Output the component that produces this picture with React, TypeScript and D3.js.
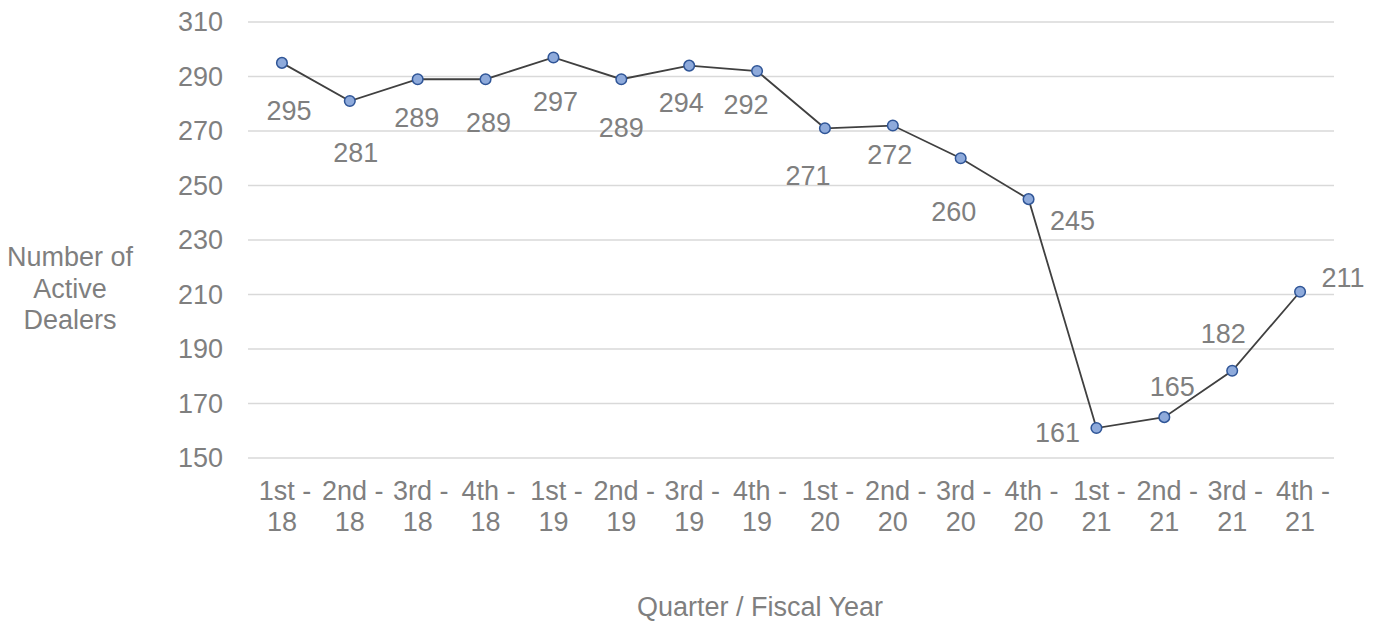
import React from "react";
import * as d3 from "d3";

const quarters = ["1st -", "2nd -", "3rd -", "4th -", "1st -", "2nd -", "3rd -", "4th -", "1st -", "2nd -", "3rd -", "4th -", "1st -", "2nd -", "3rd -", "4th -"];
const years = ["18", "18", "18", "18", "19", "19", "19", "19", "20", "20", "20", "20", "21", "21", "21", "21"];
const dealers = [295, 281, 289, 289, 297, 289, 294, 292, 271, 272, 260, 245, 161, 165, 182, 211];
const yTicks = [150, 170, 190, 210, 230, 250, 270, 290, 310];
// label offsets (px) relative to each point, as placed in the original
const labelDx = [7, 6, -1, 3, 2, 0, -8, -11, -17, -3, -7, 44, -39, 8, -9, 43];
const labelDy = [48, 52, 38, 43, 44, 48, 37, 33, 47, 29, 53, 21, 5, -31, -37, -14];

const W = 1377;
const H = 621;
const left = 248;
const right = 1334;
const top = 22;
const bottom = 458;
const FONT = "'Liberation Sans', Arial, sans-serif";
const TEXT = "#7f7f7f";
const FS = 27;

export default function App() {
  const x = d3.scaleBand<number>().domain(d3.range(dealers.length)).range([left, right]);
  const y = d3.scaleLinear().domain([150, 310]).range([bottom, top]);
  const cx = (i: number) => (x(i) as number) + x.bandwidth() / 2;
  const line = d3
    .line<number>()
    .x((_, i) => cx(i))
    .y((d) => y(d));

  return (
    <svg width={W} height={H} style={{ position: "absolute", left: 0, top: 0, background: "#fff" }} fontFamily={FONT}>
      {yTicks.map((t) => (
        <g key={t}>
          <line x1={left} x2={right} y1={y(t)} y2={y(t)} stroke="#d9d9d9" strokeWidth={1.3} />
          <text x={223} y={y(t)} dy="0.35em" textAnchor="end" fontSize={FS} fill={TEXT}>
            {t}
          </text>
        </g>
      ))}
      {quarters.map((q, i) => (
        <text key={i} x={cx(i)} y={500} textAnchor="middle" fontSize={FS} fill={TEXT}>
          <tspan x={cx(i)} dx={3}>{q}</tspan>
          <tspan x={cx(i)} dy={31}>{years[i]}</tspan>
        </text>
      ))}
      <path d={line(dealers) || ""} fill="none" stroke="#404040" strokeWidth={1.8} />
      {dealers.map((v, i) => (
        <circle key={i} cx={cx(i)} cy={y(v)} r={5.3} fill="#8eaadb" stroke="#2f5597" strokeWidth={1.5} />
      ))}
      {dealers.map((v, i) => (
        <text key={i} x={cx(i) + labelDx[i]} y={y(v) + labelDy[i]} dy="0.35em" textAnchor="middle" fontSize={FS} fill={TEXT}>
          {v}
        </text>
      ))}
      <text textAnchor="middle" fontSize={FS} fill={TEXT}>
        <tspan x={70} y={266}>Number of</tspan>
        <tspan x={70} y={298}>Active</tspan>
        <tspan x={70} y={329}>Dealers</tspan>
      </text>
      <text x={760} y={616} textAnchor="middle" fontSize={FS} fill={TEXT}>
        Quarter / Fiscal Year
      </text>
    </svg>
  );
}
